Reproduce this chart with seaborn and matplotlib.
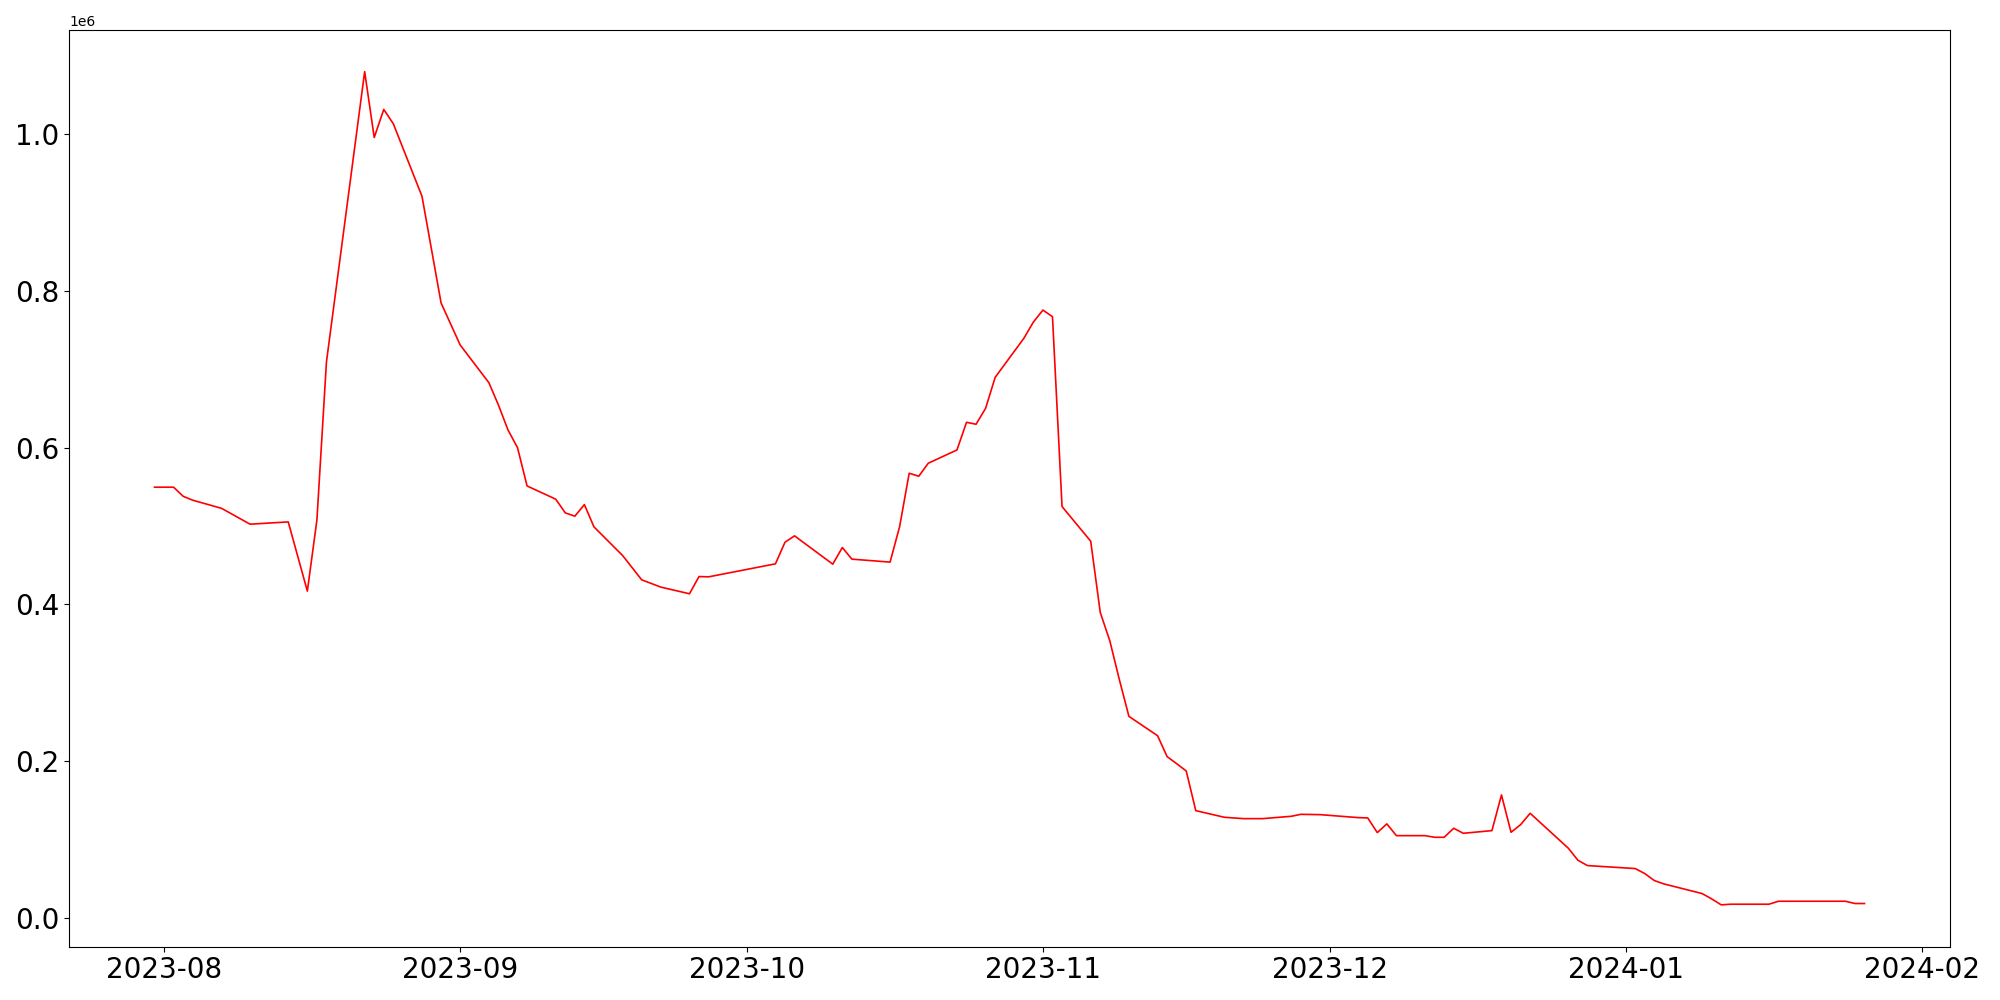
import pandas as pd
import seaborn as sns
import matplotlib.pyplot as plt

# Dates and values
dates = [
    "2023-07-31", "2023-08-02", "2023-08-03", "2023-08-04", "2023-08-07",
    "2023-08-08", "2023-08-10", "2023-08-14", "2023-08-16", "2023-08-17",
    "2023-08-18", "2023-08-22", "2023-08-23", "2023-08-24", "2023-08-25",
    "2023-08-28", "2023-08-30", "2023-09-01", "2023-09-04", "2023-09-05",
    "2023-09-06", "2023-09-07", "2023-09-08", "2023-09-11", "2023-09-12",
    "2023-09-13", "2023-09-14", "2023-09-15", "2023-09-18", "2023-09-20",
    "2023-09-22", "2023-09-25", "2023-09-26", "2023-09-27", "2023-10-04",
    "2023-10-05", "2023-10-06", "2023-10-10", "2023-10-11", "2023-10-12",
    "2023-10-16", "2023-10-17", "2023-10-18", "2023-10-19", "2023-10-20",
    "2023-10-23", "2023-10-24", "2023-10-25", "2023-10-26", "2023-10-27",
    "2023-10-30", "2023-10-31", "2023-11-01", "2023-11-02", "2023-11-03",
    "2023-11-06", "2023-11-07", "2023-11-08", "2023-11-09", "2023-11-10",
    "2023-11-13", "2023-11-14", "2023-11-15", "2023-11-16", "2023-11-17",
    "2023-11-20", "2023-11-22", "2023-11-24", "2023-11-27", "2023-11-28",
    "2023-11-30", "2023-12-04", "2023-12-05", "2023-12-06", "2023-12-07",
    "2023-12-08", "2023-12-11", "2023-12-12", "2023-12-13", "2023-12-14",
    "2023-12-15", "2023-12-18", "2023-12-19", "2023-12-20", "2023-12-21",
    "2023-12-22", "2023-12-26", "2023-12-27", "2023-12-28", "2024-01-02",
    "2024-01-03", "2024-01-04", "2024-01-05", "2024-01-09", "2024-01-10",
    "2024-01-11", "2024-01-12", "2024-01-16", "2024-01-17", "2024-01-24",
    "2024-01-25", "2024-01-26",
]
values = [
    549600, 549600, 538000, 533000, 522700,
    516000, 502400, 505300, 417000, 507600,
    709500, 1079800, 995800, 1031600, 1013300,
    920800, 784600, 731000, 683000, 654500,
    622700, 600000, 551200, 534300, 516800,
    512600, 527400, 499000, 462400, 431400,
    422100, 413600, 435600, 435200, 451800,
    479400, 487500, 451400, 472600, 457800,
    454000, 499400, 567400, 563600, 580200,
    597100, 632400, 629900, 650300, 689800,
    739500, 760300, 775600, 767100, 524900,
    480700, 389800, 353600, 304000, 257200,
    232500, 205800, 196800, 187500, 136900,
    128400, 126700, 126700, 129700, 132200,
    131800, 128000, 127600, 108900, 120000,
    105000, 105000, 102900, 102900, 114400,
    108000, 111400, 156900, 109300, 119000,
    133500, 88900, 73600, 66800, 63000,
    56600, 47700, 43400, 31100, 24300,
    16700, 17500, 17500, 21300, 21300,
    18400, 18400,
]

df = pd.DataFrame({"date": pd.to_datetime(dates), "value": values})

fig = plt.figure(figsize=(20, 10), dpi=100)
ax = fig.add_subplot(111)
sns.lineplot(data=df, x="date", y="value", color="red", linewidth=1.2, ax=ax)
ax.set_xlabel("")
ax.set_ylabel("")
plt.xticks(fontsize=20)
plt.yticks(fontsize=20)
fig.subplots_adjust(left=0.0345, right=0.975, top=0.97, bottom=0.0535)
plt.savefig("out.png")
